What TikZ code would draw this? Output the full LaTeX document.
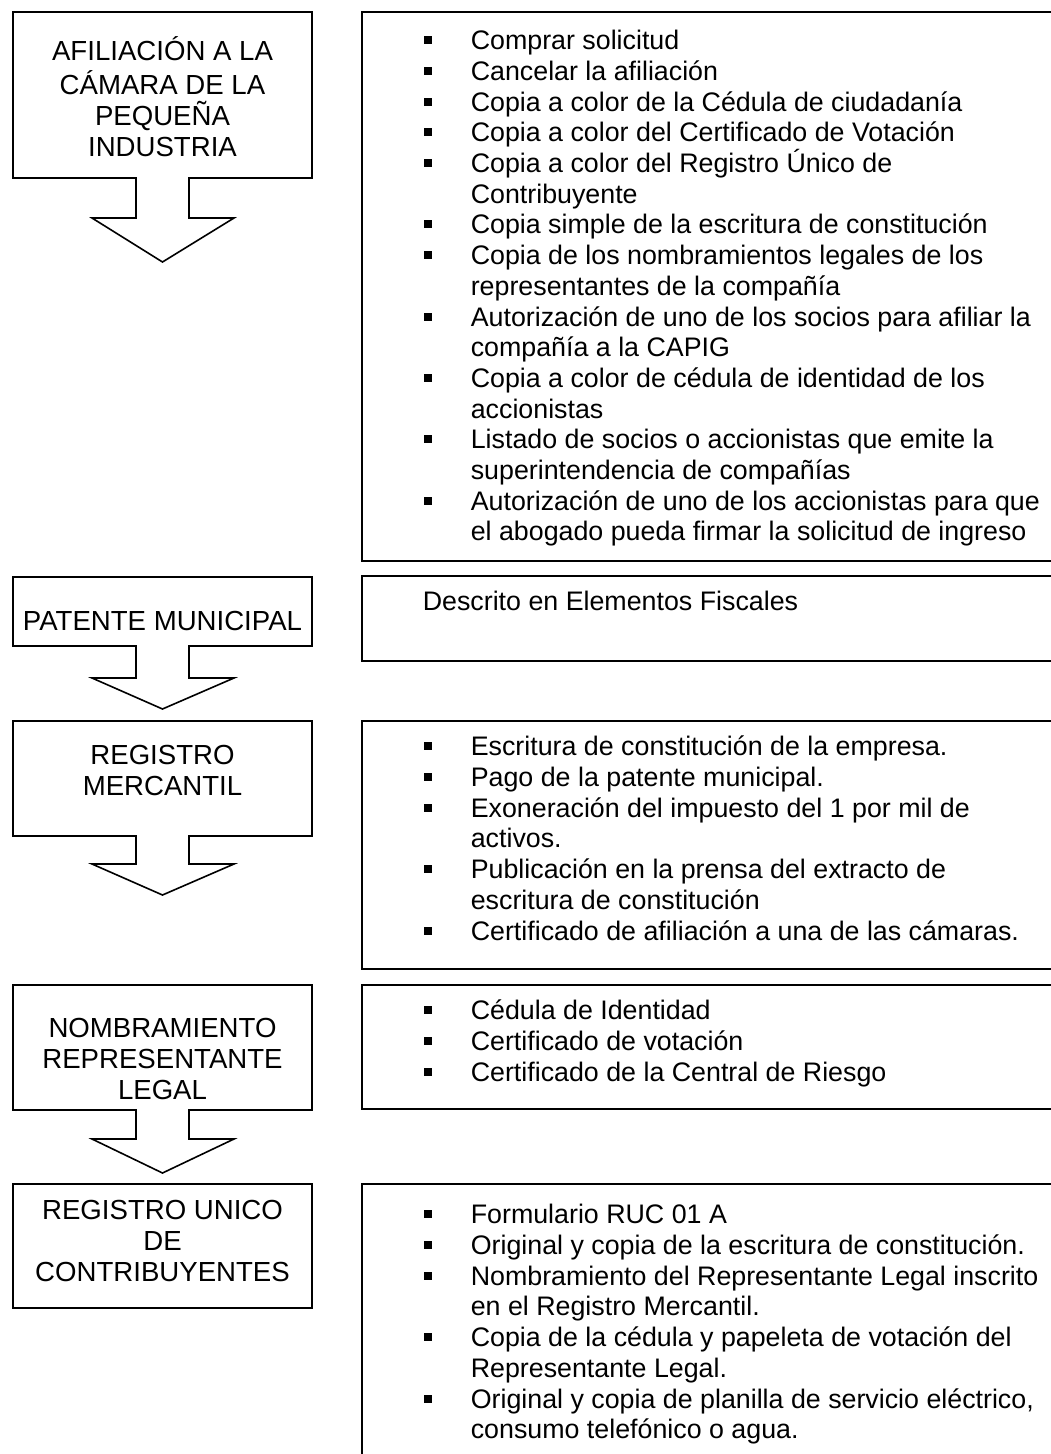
\documentclass[tikz,border=0pt]{standalone}
\usepackage{fontspec}
\setmainfont{Liberation Sans}
\newcommand\itembul{\makebox[47pt][l]{\raisebox{5.5pt}{\rule{8pt}{8pt}}}}
\newcommand\itemind{\hspace*{47pt}}
\begin{document}
\begin{tikzpicture}[x=1pt,y=-1pt, line width=1.6pt, line join=miter,
  lbl/.style={align=center, inner sep=0pt, anchor=north, font=\fontsize{27.6}{31}\selectfont},
  lst/.style={align=left, inner sep=0pt, anchor=north west, font=\fontsize{26.8}{30.7}\selectfont},
  outl/.style={draw=black, line width=1.6pt}]
\fill[white] (0,0) rectangle (1051,1454);
\useasboundingbox (0,0) rectangle (1051,1454);

% left arrow-boxes: top, bottom, stem end, tip
\newcommand\arrowshape[4]{%
  \draw[outl] (13,#1) -- (312,#1) -- (312,#2) -- (189,#2) -- (189,#3) -- (234,#3)
    -- (162.5,#4) -- (92,#3) -- (136,#3) -- (136,#2) -- (13,#2) -- cycle;}
\arrowshape{12}{178}{218}{262}
\arrowshape{577}{646}{678}{709}
\arrowshape{721}{836}{864}{895}
\arrowshape{985}{1110}{1139}{1173}
\draw[outl] (13,1184) rectangle (312,1308);

\node[lbl] (s1) at (162.5,36) {\strut AFILIACIÓN A LA\\CÁMARA DE LA\\PEQUEÑA\\INDUSTRIA};
\node[lbl] (s2) at (162.5,608) {\strut PATENTE MUNICIPAL};
\node[lbl] (s3) at (162.5,742) {\strut REGISTRO\\MERCANTIL};
\node[lbl] (s4) at (162.5,1015) {\strut NOMBRAMIENTO\\REPRESENTANTE\\LEGAL};
\node[lbl] (s5) at (162.5,1197) {\strut REGISTRO UNICO\\DE\\CONTRIBUYENTES};

% right boxes (open on the right)
\draw[outl] (1060,12) -- (362,12) -- (362,561) -- (1060,561);
\draw[outl] (1060,576) -- (362,576) -- (362,661) -- (1060,661);
\draw[outl] (1060,721) -- (362,721) -- (362,969) -- (1060,969);
\draw[outl] (1060,985) -- (362,985) -- (362,1109) -- (1060,1109);
\draw[outl] (1060,1184) -- (362,1184) -- (362,1470);

\node[lst] (r1) at (423,27.5) {\strut\itembul Comprar solicitud\\
\itembul Cancelar la afiliación\\
\itembul Copia a color de la Cédula de ciudadanía\\
\itembul Copia a color del Certificado de Votación\\
\itembul Copia a color del Registro Único de\\
\itemind Contribuyente\\
\itembul Copia simple de la escritura de constitución\\
\itembul Copia de los nombramientos legales de los\\
\itemind representantes de la compañía\\
\itembul Autorización de uno de los socios para afiliar la\\
\itemind compañía a la CAPIG\\
\itembul Copia a color de cédula de identidad de los\\
\itemind accionistas\\
\itembul Listado de socios o accionistas que emite la\\
\itemind superintendencia de compañías\\
\itembul Autorización de uno de los accionistas para que\\
\itemind el abogado pueda firmar la solicitud de ingreso};

\node[lst] (r2) at (422,588.5) {\strut Descrito en Elementos Fiscales};

\node[lst] (r3) at (423,733.5) {\strut\itembul Escritura de constitución de la empresa.\\
\itembul Pago de la patente municipal.\\
\itembul Exoneración del impuesto del 1 por mil de\\
\itemind activos.\\
\itembul Publicación en la prensa del extracto de\\
\itemind escritura de constitución\\
\itembul Certificado de afiliación a una de las cámaras.};

\node[lst] (r4) at (423,997.5) {\strut\itembul Cédula de Identidad\\
\itembul Certificado de votación\\
\itembul Certificado de la Central de Riesgo};

\node[lst] (r5) at (423,1201.5) {\strut\itembul Formulario RUC 01 A\\
\itembul Original y copia de la escritura de constitución.\\
\itembul Nombramiento del Representante Legal inscrito\\
\itemind en el Registro Mercantil.\\
\itembul Copia de la cédula y papeleta de votación del\\
\itemind Representante Legal.\\
\itembul Original y copia de planilla de servicio eléctrico,\\
\itemind consumo telefónico o agua.};
\end{tikzpicture}
\end{document}
